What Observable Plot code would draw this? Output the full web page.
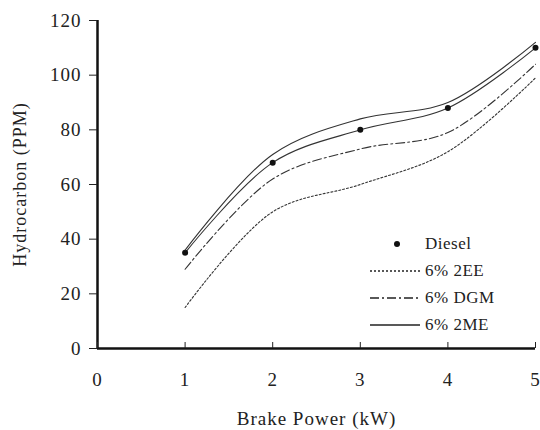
<!DOCTYPE html>
<html><head><meta charset="utf-8">
<script src="https://cdn.jsdelivr.net/npm/d3@7"></script>
<script src="https://cdn.jsdelivr.net/npm/@observablehq/plot@0.6"></script>
<style>
body{margin:0;background:#fff;}
#wrap{position:relative;width:540px;height:430px;font-family:"Liberation Serif","DejaVu Serif",serif;}
#legend{position:absolute;left:368px;top:230px;font-size:17px;letter-spacing:0.5px;color:#222;}
#legend .row{display:flex;align-items:center;height:27px;}
#legend svg{width:54px;height:12px;margin-right:3px;}
</style></head>
<body><div id="wrap"><div id="legend"></div></div>
<script>
const power = [1, 2, 3, 4, 5];
const diesel = [35, 68, 80, 88, 110];
const ee2 = [15, 50, 60, 72, 99];
const dgm = [29, 62, 73, 79, 104];
const me2 = [36, 71, 84, 90, 112];
const xTicks = [0, 1, 2, 3, 4, 5];
const yTicks = [0, 20, 40, 60, 80, 100, 120];

const series = [
  {name: "Diesel", vals: diesel, dash: null, dot: true},
  {name: "6% 2EE", vals: ee2, dash: "2,2", dot: false},
  {name: "6% DGM", vals: dgm, dash: "9,3,2,3", dot: false},
  {name: "6% 2ME", vals: me2, dash: null, dot: false}
];
const rows = series.flatMap(s => power.map((p, i) => ({series: s.name, x: p, y: s.vals[i]})));

const marks = [];
for (const s of series) {
  const d = rows.filter(r => r.series === s.name);
  marks.push(Plot.line(d, {x: "x", y: "y", curve: "catmull-rom", stroke: "#333", strokeWidth: 1.1, strokeDasharray: s.dash}));
  if (s.dot) marks.push(Plot.dot(d, {x: "x", y: "y", r: 3, fill: "#111", stroke: "none"}));
}
marks.push(Plot.ruleX([0], {stroke: "#111", strokeWidth: 2.5}));
marks.push(Plot.ruleY([0], {stroke: "#111", strokeWidth: 2.5}));
marks.push(Plot.axisY({ticks: yTicks, tickFormat: "d", tickSize: 8, tickPadding: 8, fontSize: 19, label: null}));
marks.push(Plot.axisY({ticks: [], label: "Hydrocarbon (PPM)", labelAnchor: "center", labelArrow: "none", labelOffset: 84, fontSize: 18}));
marks.push(Plot.axisX({ticks: xTicks, tickFormat: "d", tickSize: -6, tickPadding: 30, fontSize: 19, label: null}));
marks.push(Plot.axisX({ticks: [], label: "Brake Power (kW)", labelAnchor: "center", labelArrow: "none", labelOffset: 76, fontSize: 19}));

const chart = Plot.plot({
  width: 540, height: 430,
  marginLeft: 97, marginRight: 5, marginTop: 20, marginBottom: 82,
  style: {fontFamily: "Liberation Serif, DejaVu Serif, serif", fontSize: "19px", color: "#222", background: "#fff", letterSpacing: "1px", overflow: "visible"},
  x: {domain: [0, 5]},
  y: {domain: [0, 120]},
  marks
});
const wrap = document.getElementById("wrap");
wrap.insertBefore(chart, wrap.firstChild);

const lg = document.getElementById("legend");
for (const s of series) {
  const row = document.createElement("div");
  row.className = "row";
  const sample = s.dot
    ? `<svg viewBox="0 0 54 12"><circle cx="29" cy="6" r="3" fill="#111"/></svg>`
    : `<svg viewBox="0 0 54 12"><line x1="2" x2="52" y1="6" y2="6" stroke="#222" stroke-width="1.3" ${s.dash ? `stroke-dasharray="${s.dash}"` : ""}/></svg>`;
  row.innerHTML = sample + `<span>${s.name}</span>`;
  lg.appendChild(row);
}
</script></body></html>
